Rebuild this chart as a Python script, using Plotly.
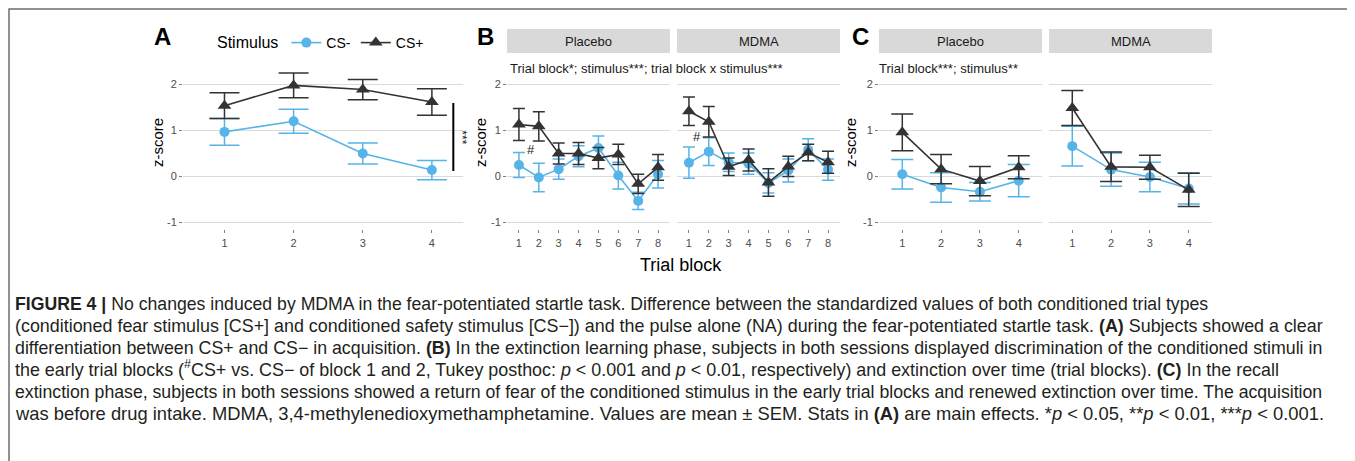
import plotly.graph_objects as go

W, H = 1355, 461
OFF = 8  # page body margin in the browser

# ---------------- data ----------------
stimuli = ["CS-", "CS+"]
a_blocks = [1, 2, 3, 4]
a_csm = [0.97, 1.20, 0.50, 0.14]
a_csm_err = [0.29, 0.26, 0.23, 0.21]
a_csp = [1.54, 1.98, 1.89, 1.62]
a_csp_err = [0.28, 0.27, 0.22, 0.29]
a_sig_y = [0.12, 1.60]

b_blocks = [1, 2, 3, 4, 5, 6, 7, 8]
b_pla_csp = [1.13, 1.09, 0.50, 0.50, 0.40, 0.48, -0.16, 0.20]
b_pla_csp_err = [0.35, 0.32, 0.23, 0.24, 0.23, 0.22, 0.21, 0.28]
b_pla_csm = [0.25, -0.02, 0.16, 0.44, 0.62, 0.02, -0.53, 0.05]
b_pla_csm_err = [0.27, 0.31, 0.22, 0.23, 0.26, 0.29, 0.19, 0.30]
b_mdma_csp = [1.42, 1.19, 0.21, 0.36, -0.13, 0.22, 0.52, 0.31]
b_mdma_csp_err = [0.31, 0.33, 0.19, 0.24, 0.30, 0.22, 0.18, 0.24]
b_mdma_csm = [0.30, 0.54, 0.31, 0.28, -0.14, 0.13, 0.58, 0.15]
b_mdma_csm_err = [0.34, 0.30, 0.20, 0.23, 0.22, 0.25, 0.24, 0.23]

c_blocks = [1, 2, 3, 4]
c_pla_csp = [0.96, 0.16, -0.10, 0.20]
c_pla_csp_err = [0.40, 0.32, 0.32, 0.25]
c_pla_csm = [0.05, -0.24, -0.33, -0.09]
c_pla_csm_err = [0.32, 0.32, 0.20, 0.35]
c_mdma_csp = [1.49, 0.21, 0.20, -0.29]
c_mdma_csp_err = [0.38, 0.32, 0.26, 0.36]
c_mdma_csm = [0.66, 0.15, -0.01, -0.26]
c_mdma_csm_err = [0.43, 0.36, 0.32, 0.34]

sessions = ["Placebo", "MDMA"]
y_ticks = [-1, 0, 1, 2]

caption_lines = [
    "<b>FIGURE 4 |</b> No changes induced by MDMA in the fear-potentiated startle task. Difference between the standardized values of both conditioned trial types",
    "(conditioned fear stimulus [CS+] and conditioned safety stimulus [CS\u2212]) and the pulse alone (NA) during the fear-potentiated startle task. <b>(A)</b> Subjects showed a clear",
    "differentiation between CS+ and CS\u2212 in acquisition. <b>(B)</b> In the extinction learning phase, subjects in both sessions displayed discrimination of the conditioned stimuli in",
    "the early trial blocks (<sup>#</sup>CS+ vs. CS\u2212 of block 1 and 2, Tukey posthoc: <i>p</i> < 0.001 and <i>p</i> < 0.01, respectively) and extinction over time (trial blocks). <b>(C)</b> In the recall",
    "extinction phase, subjects in both sessions showed a return of fear of the conditioned stimulus in the early trial blocks and renewed extinction over time. The acquisition",
    "was before drug intake. MDMA, 3,4-methylenedioxymethamphetamine. Values are mean \u00b1 SEM. Stats in <b>(A)</b> are main effects. *<i>p</i> < 0.05, **<i>p</i> < 0.01, ***<i>p</i> < 0.001.",
]
caption_sizes = [17.66, 17.9, 17.79, 17.9, 17.68, 18.38]

# ---------------- style ----------------
BLUE = "#56B4E9"
DARK = "#333333"
GRID = "#dadada"
TICK = "#4d4d4d"
FONT = "Liberation Sans"


def px_x(p):
    return (p - OFF) / W


def px_y(p):
    return 1 - (p - OFF) / H


fig = go.Figure()

y_dom = [px_y(229.4), px_y(68.4)]
panels = [
    ("", 183, 463, [0.40, 4.45], a_blocks, a_csm, a_csm_err, a_csp, a_csp_err, 15, True),
    ("2", 507, 670, [0.4, 8.6], b_blocks, b_pla_csm, b_pla_csm_err, b_pla_csp, b_pla_csp_err, 6, True),
    ("3", 677, 840, [0.4, 8.6], b_blocks, b_mdma_csm, b_mdma_csm_err, b_mdma_csp, b_mdma_csp_err, 6, False),
    ("4", 879, 1042, [0.4, 4.6], c_blocks, c_pla_csm, c_pla_csm_err, c_pla_csp, c_pla_csp_err, 11, True),
    ("5", 1049, 1212, [0.4, 4.6], c_blocks, c_mdma_csm, c_mdma_csm_err, c_mdma_csp, c_mdma_csp_err, 11, False),
]

for i, (s, x0, x1, xr, xs, csm, csme, csp, cspe, capw, showy) in enumerate(panels):
    xa = "x" + s
    ya = "y" + s
    fig.add_trace(go.Scatter(
        x=xs, y=csm, mode="lines+markers", name=stimuli[0],
        legendgroup=stimuli[0], showlegend=(i == 0),
        line=dict(color=BLUE, width=1.6),
        marker=dict(color=BLUE, size=10, symbol="circle"),
        error_y=dict(type="data", array=csme, color=BLUE, thickness=1.5, width=capw),
        xaxis=xa, yaxis=ya))
    fig.add_trace(go.Scatter(
        x=xs, y=csp, mode="lines+markers", name=stimuli[1],
        legendgroup=stimuli[1], showlegend=(i == 0),
        line=dict(color=DARK, width=1.6),
        marker=dict(color=DARK, size=12, symbol="triangle-up"),
        error_y=dict(type="data", array=cspe, color=DARK, thickness=1.5, width=capw),
        xaxis=xa, yaxis=ya))

    fig.layout["xaxis" + s] = dict(
        domain=[px_x(x0), px_x(x1)], range=xr, anchor=ya,
        tickmode="array", tickvals=xs, ticktext=[str(v) for v in xs],
        showgrid=False, zeroline=False, showline=False,
        ticks="outside", ticklen=3, tickcolor="#7f7f7f", tickwidth=1,
        tickfont=dict(family=FONT, size=11, color=TICK),
    )
    fig.layout["yaxis" + s] = dict(
        domain=y_dom, range=[-1.15, 2.35], anchor=xa,
        tickmode="array", tickvals=y_ticks, ticktext=[str(v) for v in y_ticks],
        showticklabels=showy,
        ticks="outside" if showy else "", ticklen=3, tickcolor="#7f7f7f", tickwidth=1,
        showgrid=True, gridcolor=GRID, gridwidth=1.2,
        zeroline=False, showline=False,
        tickfont=dict(family=FONT, size=11, color=TICK),
    )

shapes = []
annotations = []

# significance bar in panel A
shapes.append(dict(type="line", xref="x", yref="y", x0=4.31, x1=4.31,
                   y0=a_sig_y[0], y1=a_sig_y[1], line=dict(color="black", width=2)))
annotations.append(dict(xref="x", yref="y", x=4.43, y=sum(a_sig_y) / 2, text="***",
                        textangle=90, showarrow=False,
                        font=dict(family=FONT, size=12, color="#222")))

# '#' markers in B
annotations.append(dict(xref="x2", yref="y2", x=1.61, y=0.58, text="#", showarrow=False,
                        font=dict(family=FONT, size=13, color="#222")))
annotations.append(dict(xref="x3", yref="y3", x=1.41, y=0.86, text="#", showarrow=False,
                        font=dict(family=FONT, size=13, color="#222")))

# strips
for (x0, x1, lab) in [(507, 670, sessions[0]), (677, 840, sessions[1]),
                      (879, 1042, sessions[0]), (1049, 1212, sessions[1])]:
    shapes.append(dict(type="rect", xref="paper", yref="paper",
                       x0=px_x(x0), x1=px_x(x1), y0=px_y(53), y1=px_y(29),
                       fillcolor="#d9d9d9", line=dict(width=0), layer="below"))
    annotations.append(dict(xref="paper", yref="paper", x=px_x((x0 + x1) / 2), y=px_y(41.5),
                            text=lab, showarrow=False, xanchor="center", yanchor="middle",
                            font=dict(family=FONT, size=13, color="#1a1a1a")))

# panel letters
for lab, xp in [("A", 152), ("B", 475), ("C", 850)]:
    annotations.append(dict(xref="paper", yref="paper", x=px_x(xp), y=px_y(37),
                            text="<b>" + lab + "</b>", showarrow=False,
                            xanchor="left", yanchor="middle",
                            font=dict(family=FONT, size=24, color="black")))

# stats text
annotations.append(dict(xref="paper", yref="paper", x=px_x(508), y=px_y(69),
                        text="Trial block*; stimulus***; trial block x stimulus***",
                        showarrow=False, xanchor="left", yanchor="middle",
                        font=dict(family=FONT, size=13, color="#1a1a1a")))
annotations.append(dict(xref="paper", yref="paper", x=px_x(877), y=px_y(69),
                        text="Trial block***; stimulus**",
                        showarrow=False, xanchor="left", yanchor="middle",
                        font=dict(family=FONT, size=13, color="#1a1a1a")))

# axis titles
for xp in [157, 480, 850]:
    annotations.append(dict(xref="paper", yref="paper", x=px_x(xp), y=px_y(143),
                            text="z-score", textangle=-90, showarrow=False,
                            xanchor="center", yanchor="middle",
                            font=dict(family=FONT, size=15, color="black")))
annotations.append(dict(xref="paper", yref="paper", x=px_x(681), y=px_y(265),
                        text="Trial block", showarrow=False, xanchor="center", yanchor="middle",
                        font=dict(family=FONT, size=18, color="black")))

# caption
for k, line in enumerate(caption_lines):
    annotations.append(dict(xref="paper", yref="paper", x=px_x(13), y=px_y(303 + 22 * k + 13),
                            text=line, showarrow=False, xanchor="left", yanchor="bottom",
                            align="left",
                            font=dict(family=FONT, size=caption_sizes[k], color="#231f20")))

# frame
shapes.append(dict(type="rect", xref="paper", yref="paper",
                   x0=px_x(9), x1=px_x(1354), y0=-0.1, y1=px_y(9),
                   line=dict(color="#6e6e6e", width=1.5)))

fig.update_layout(
    width=W, height=H,
    margin=dict(l=0, r=0, t=0, b=0),
    paper_bgcolor="white", plot_bgcolor="white",
    shapes=shapes, annotations=annotations,
    font=dict(family=FONT),
    legend=dict(orientation="h", x=px_x(215), y=px_y(43), xanchor="left", yanchor="middle",
                title=dict(text="Stimulus", font=dict(family=FONT, size=16, color="black"), side="left"),
                font=dict(family=FONT, size=14, color="black"),
                bgcolor="rgba(0,0,0,0)", itemwidth=30, tracegroupgap=0),
)

fig.write_html("out.html")
